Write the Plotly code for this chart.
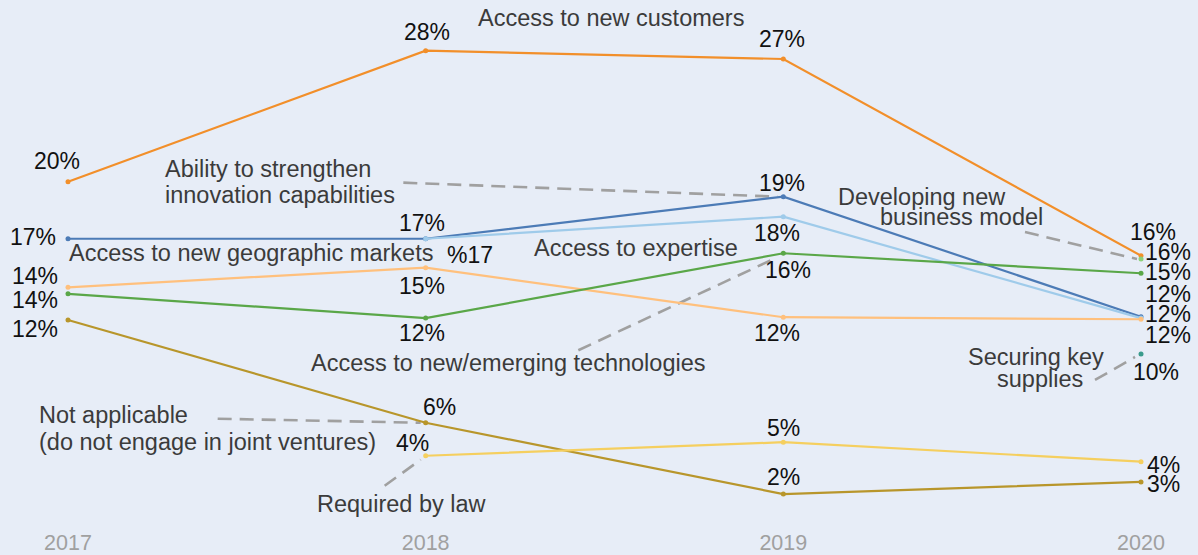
import plotly.graph_objects as go

# ---- data -------------------------------------------------------------
years = [2017, 2018, 2019, 2020]

customers = [20.1, 27.77, 27.28, 15.78]        # Access to new customers
innovation = [16.77, 16.77, 19.23, 12.21]      # Ability to strengthen innovation capabilities
expertise = [None, 16.77, 18.06, 12.13]        # Access to expertise
geo_markets = [13.93, 15.08, 12.18, 12.06]     # Access to new geographic markets
technologies = [13.55, 12.13, 15.92, 14.75]    # Access to new/emerging technologies
not_applicable = [12.02, 6.01, 1.84, 2.55]     # Not applicable
required_by_law = [None, 4.08, 4.87, 3.73]     # Required by law
key_supplies = [None, None, None, 10.03]       # Securing key supplies
business_model = [None, None, None, 15.58]     # Developing new business model

# ---- styling ----------------------------------------------------------
W, H = 1198, 555
M_BOTTOM = 28
PLOT_H = H - M_BOTTOM
BG = "#E7EDF7"
FONT = "Liberation Sans, Arial, sans-serif"
NAME_COLOR = "#3b3b3b"
NUM_COLOR = "#111111"
LEADER = "#a0a0a0"
NAME_SIZE = 23.5
NUM_SIZE = 23

# x: 2017 -> 68 px, 2020 -> 1141 px ; y: value v -> 525.5 - 17.1 v px
PX_PER_YEAR = (1141 - 68) / 3
X_RANGE = [2017 - 68 / PX_PER_YEAR, 2017 + (W - 68) / PX_PER_YEAR]
PX_PER_PCT = 17.1
Y_TOP_PX = 525.5
Y_RANGE = [(Y_TOP_PX - PLOT_H) / PX_PER_PCT, Y_TOP_PX / PX_PER_PCT]

series = [
    # values, color, per-point label offsets (dx, dy screen px), custom label text
    ("Access to new customers", customers, "#F28F2A",
     [(-11, -21), (1, -19), (-1, -20), (12, -24)], None),
    ("Ability to strengthen innovation capabilities", innovation, "#4C7BB6",
     [(-35, -2), (-4, -16), (-1, -14), (27, -3)], None),
    ("Access to expertise", expertise, "#9FCBEA",
     [None, (44, 16), (-6, 16), (27, -24)], {1: "%17"}),
    ("Access to new geographic markets", geo_markets, "#FFC07D",
     [(-33, -11), (-4, 18), (-6, 16), (27, 16)], None),
    ("Access to new/emerging technologies", technologies, "#5AA748",
     [(-33, 6), (-4, 15), (5, 17), (27, -1)], None),
    ("Not applicable", not_applicable, "#B8962B",
     [(-33, 9), (14, -16), (0, -17), (22, 2)], None),
    ("Required by law", required_by_law, "#F5CF5F",
     [None, (-13, -13), (0, -14), (22, 3)], None),
    ("Securing key supplies", key_supplies, "#3A9B8C",
     [None, None, None, (15, 18)], None),
    ("Developing new business model", business_model, "#8DD17B",
     [None, None, None, (27, -7)], None),
]

fig = go.Figure()
annotations = []

for name, vals, color, offsets, custom in series:
    xs = [x for x, v in zip(years, vals) if v is not None]
    ys = [v for v in vals if v is not None]
    fig.add_trace(go.Scatter(
        x=xs, y=ys, name=name, mode="lines+markers",
        line=dict(color=color, width=2.2),
        marker=dict(color=color, size=5),
        showlegend=False, hoverinfo="skip",
    ))
    for i, (x, v) in enumerate(zip(years, vals)):
        if v is None or offsets[i] is None:
            continue
        dx, dy = offsets[i]
        text = custom[i] if custom and i in custom else f"{v:.0f}%"
        annotations.append(dict(
            x=x, y=v, xref="x", yref="y", text=text, showarrow=False,
            xshift=dx, yshift=-dy, xanchor="center", yanchor="middle",
            font=dict(family=FONT, size=NUM_SIZE, color=NUM_COLOR),
        ))


def paper(px, py):
    return px / W, 1 - py / PLOT_H


# series names
names = [
    ("Access to new customers", 611, 18, "center"),
    ("Ability to strengthen", 163, 169, "left"),
    ("innovation capabilities", 163, 195, "left"),
    ("Access to new geographic markets", 67, 253, "left"),
    ("Access to expertise", 636, 248, "center"),
    ("Access to new/emerging technologies", 508, 363, "center"),
    ("Developing new", 922, 197, "center"),
    ("business model", 961, 217, "center"),
    ("Securing key", 1036, 357, "center"),
    ("supplies", 1040, 379, "center"),
    ("Not applicable", 37, 415, "left"),
    ("(do not engage in joint ventures)", 37, 442, "left"),
    ("Required by law", 402, 504, "center"),
]
for text, px, py, anchor in names:
    xp, yp = paper(px, py)
    annotations.append(dict(
        x=xp, y=yp, xref="paper", yref="paper", text=text, showarrow=False,
        xanchor=anchor, yanchor="middle",
        font=dict(family=FONT, size=NAME_SIZE, color=NAME_COLOR),
    ))

# dashed leader lines, anchored at a data point; offsets in screen px
leaders = [
    (2019, innovation[2], (-380, -14), (-6, 0)),
    (2019, technologies[2], (-205, 97), (-6, 4)),
    (2020, business_model[3], (-116, -27), (-4, 0)),
    (2020, key_supplies[3], (-46, 26), (-6, 3)),
    (2018, not_applicable[1], (-208, -4), (-5, 0)),
    (2018, required_by_law[1], (-41, 30), (-5, 4)),
]
shapes = []
for x, v, (sx, sy), (ex, ey) in leaders:
    shapes.append(dict(
        type="line", xref="x", yref="y",
        xsizemode="pixel", ysizemode="pixel", xanchor=x, yanchor=v,
        x0=sx, y0=-sy, x1=ex, y1=-ey,
        line=dict(color=LEADER, width=2.6, dash="14px,8px"),
        layer="below",
    ))

fig.update_layout(
    width=W, height=H,
    margin=dict(l=0, r=0, t=0, b=M_BOTTOM, autoexpand=False),
    paper_bgcolor=BG, plot_bgcolor=BG,
    annotations=annotations, shapes=shapes,
    xaxis=dict(range=X_RANGE, tickvals=years, ticktext=[str(y) for y in years],
               showgrid=False, zeroline=False, showline=False, ticks="",
               automargin=False,
               tickfont=dict(family=FONT, size=21.5, color="#a0a0a0")),
    yaxis=dict(range=Y_RANGE, visible=False, showgrid=False, zeroline=False,
               automargin=False),
)

fig.write_html("out.html")
